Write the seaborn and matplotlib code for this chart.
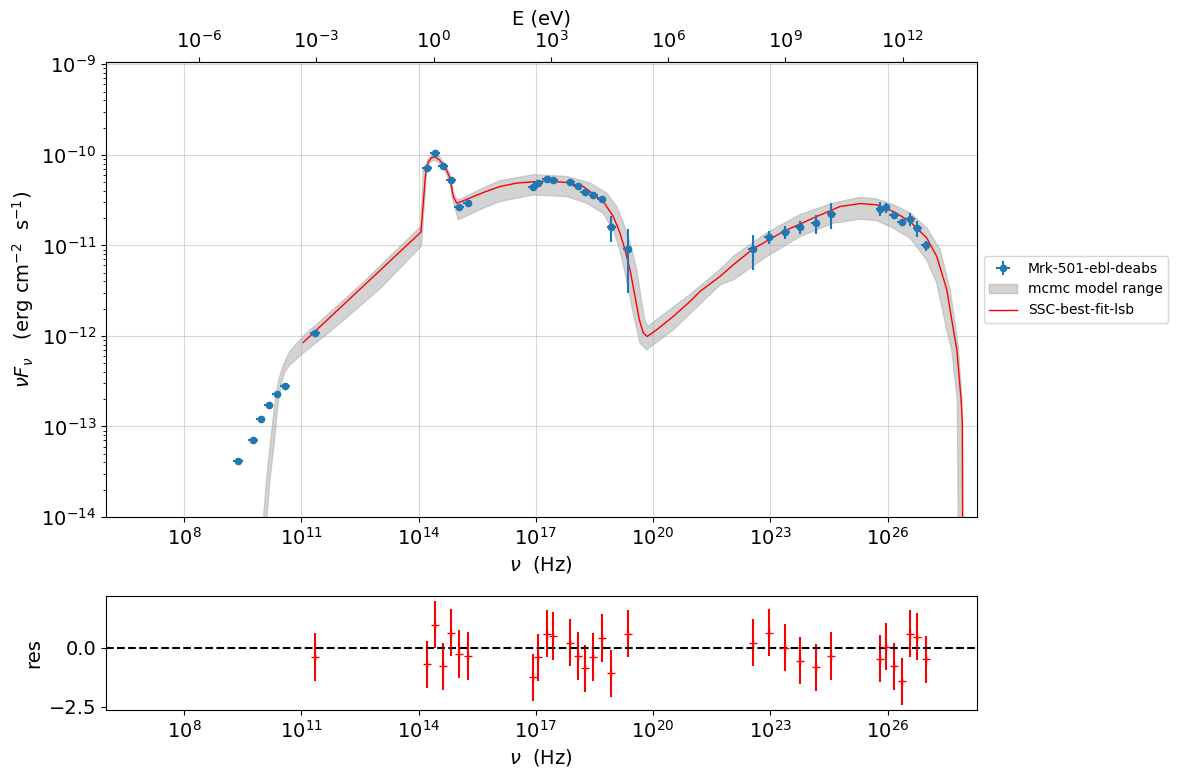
import numpy as np
import pandas as pd
import matplotlib
matplotlib.use('Agg')
import matplotlib.pyplot as plt
import seaborn as sns
from matplotlib.ticker import NullLocator

H_EV = 4.135667e-15  # Planck constant, eV s

# observed SED (log10 nu in Hz, nuFnu in erg cm-2 s-1)
lognu_data = [9.38, 9.76, 9.96, 10.16, 10.37, 10.58, 11.35,
              14.21, 14.42, 14.62, 14.83, 15.03, 15.25,
              16.93, 17.05, 17.28, 17.44, 17.88, 18.08, 18.26, 18.47, 18.68, 18.93, 19.35,
              22.55, 22.96, 23.38, 23.75, 24.16, 24.56,
              25.81, 25.95, 26.16, 26.36, 26.57, 26.76, 26.97]
flux_data = [4.16e-14, 7.1e-14, 1.22e-13, 1.74e-13, 2.29e-13, 2.80e-13, 1.08e-12,
             7.13e-11, 1.05e-10, 7.5e-11, 5.26e-11, 2.62e-11, 2.95e-11,
             4.44e-11, 4.88e-11, 5.47e-11, 5.26e-11, 4.95e-11, 4.47e-11, 3.84e-11, 3.59e-11, 3.24e-11, 1.60e-11, 9.1e-12,
             9.1e-12, 1.24e-11, 1.41e-11, 1.59e-11, 1.77e-11, 2.23e-11,
             2.54e-11, 2.62e-11, 2.16e-11, 1.82e-11, 1.97e-11, 1.56e-11, 9.97e-12]
flux_err = [1.7e-15, 2.8e-15, 5e-15, 7e-15, 9e-15, 1.1e-14, 5e-14,
            5e-12, 7e-12, 5e-12, 3.5e-12, 1.8e-12, 2e-12,
            3e-12, 3.2e-12, 3.5e-12, 3.4e-12, 3.2e-12, 2.9e-12, 2.5e-12, 2.3e-12, 2.1e-12, 5.2e-12, 6.1e-12,
            3.8e-12, 2.1e-12, 2.3e-12, 2.7e-12, 4.2e-12, 7e-12,
            4.4e-12, 3.3e-12, 1.2e-12, 1e-12, 3.3e-12, 3.2e-12, 1.2e-12]
lognu_halfwidth = 0.12  # bin half width in dex

# residuals of the fitted points (from the 7th point on)
res_data = [-0.38, -0.70, 0.98, -0.77, 0.65, -0.26, -0.34,
            -1.25, -0.40, 0.60, 0.51, 0.23, -0.34, -0.86, -0.38, 0.42, -1.08, 0.60,
            0.23, 0.64, 0.01, -0.54, -0.82, -0.34,
            -0.45, 0.06, -0.77, -1.41, 0.60, 0.47, -0.48]

# best fit SSC model
lognu_model = [11.046, 14.058, 14.186, 14.250, 14.332, 14.417, 14.519, 14.629, 14.724, 14.801,
               14.885, 14.972, 15.100, 15.653, 16.080, 16.508, 16.933, 17.360, 17.788, 18.212,
               18.384, 18.724, 18.980, 19.152, 19.280, 19.408, 19.536, 19.646, 19.748, 19.850,
               20.091, 20.516, 20.943, 21.199, 21.711, 22.052, 22.548, 23.331, 24.186, 24.783,
               25.295, 25.722, 26.147, 26.574, 27.002, 27.258, 27.514, 27.683, 27.770, 27.880,
               27.913, 27.924]
logflux_model = [-12.072, -10.853, -10.166, -10.077, -10.030, -10.025, -10.050, -10.110, -10.177, -10.257,
                 -10.460, -10.533, -10.515, -10.416, -10.350, -10.312, -10.298, -10.290, -10.306, -10.350,
                 -10.405, -10.515, -10.681, -10.864, -11.049, -11.269, -11.564, -11.821, -11.968, -12.006,
                 -11.932, -11.785, -11.619, -11.509, -11.343, -11.214, -11.041, -10.847, -10.681, -10.571,
                 -10.538, -10.552, -10.626, -10.736, -10.919, -11.123, -11.490, -11.932, -12.152, -12.704,
                 -12.961, -14.5]

# mcmc model range, upper and lower edges
lognu_band_hi = [10.00, 10.109, 10.219, 10.321, 10.424, 10.534, 10.705, 11.046, 11.473, 12.574,
                 14.058, 14.122, 14.174, 14.250, 14.332, 14.417, 14.519, 14.629, 14.724, 14.801,
                 14.890, 14.980, 15.100, 15.653, 16.080, 16.933, 17.788, 18.384, 18.811, 19.067,
                 19.236, 19.408, 19.579, 19.707, 19.792, 19.876, 20.091, 20.943, 21.711, 22.052,
                 22.906, 23.759, 24.611, 25.295, 25.722, 26.147, 26.574, 27.002, 27.342, 27.598,
                 27.750, 27.811, 27.897, 27.913]
logflux_band_hi = [-14.2, -13.587, -13.146, -12.759, -12.483, -12.329, -12.174, -12.006, -11.843, -11.413,
                   -10.791, -10.166, -10.143, -10.044, -10.000, -9.994, -10.017, -10.077, -10.143, -10.221,
                   -10.419, -10.497, -10.486, -10.368, -10.287, -10.221, -10.240, -10.312, -10.423, -10.571,
                   -10.754, -10.975, -11.269, -11.637, -11.840, -11.895, -11.821, -11.545, -11.269, -11.123,
                   -10.864, -10.662, -10.533, -10.471, -10.489, -10.552, -10.643, -10.809, -11.049, -11.490,
                   -11.932, -12.152, -12.704, -14.2]
lognu_band_lo = [10.078, 10.193, 10.296, 10.385, 10.475, 10.577, 10.705, 11.046, 11.729, 13.009,
                 14.058, 14.071, 14.199, 14.250, 14.332, 14.417, 14.519, 14.629, 14.724, 14.801,
                 14.877, 14.929, 15.013, 15.653, 16.080, 16.933, 17.788, 18.299, 18.724, 18.980,
                 19.152, 19.323, 19.492, 19.664, 19.835, 20.004, 20.516, 21.711, 22.052, 22.906,
                 23.759, 24.611, 25.295, 25.722, 26.147, 26.574, 27.002, 27.258, 27.514, 27.642,
                 27.785, 27.811]
logflux_band_lo = [-14.2, -13.587, -13.201, -12.815, -12.539, -12.395, -12.318, -12.189, -11.954, -11.479,
                   -11.012, -11.0, -10.199, -10.110, -10.066, -10.061, -10.088, -10.149, -10.221, -10.298,
                   -10.497, -10.574, -10.717, -10.588, -10.515, -10.442, -10.460, -10.533, -10.643, -10.828,
                   -11.049, -11.380, -11.747, -12.078, -12.152, -12.097, -11.932, -11.435, -11.380, -11.123,
                   -10.902, -10.754, -10.710, -10.725, -10.809, -10.919, -11.159, -11.416, -11.932, -12.152,
                   -12.704, -14.2]

plt.rc('font', size=14)
fig = plt.figure(figsize=(11.78, 7.78), dpi=100)
ax = fig.add_axes([0.090, 0.3355, 0.7391, 0.5848])
ax_res = fig.add_axes([0.090, 0.0874, 0.7391, 0.1465], sharex=ax)
ax.set_xscale('log')
ax.set_yscale('log')

nu = 10**np.array(lognu_data)
flux = np.array(flux_data)
xerr = [nu - nu*10**(-lognu_halfwidth), nu*10**lognu_halfwidth - nu]

# model band as one polygon (upper edge then lower edge backwards)
band_x = np.concatenate([10**np.array(lognu_band_hi), 10**np.array(lognu_band_lo)[::-1]])
band_y = np.concatenate([10**np.array(logflux_band_hi), 10**np.array(logflux_band_lo)[::-1]])
band = ax.fill(band_x, band_y, facecolor='lightgray', edgecolor='#c6c6c6', lw=1,
               label='mcmc model range', zorder=1)[0]

df_model = pd.DataFrame({'nu': 10**np.array(lognu_model), 'nuFnu': 10**np.array(logflux_model)})
sns.lineplot(data=df_model, x='nu', y='nuFnu', color='red', lw=1, sort=False, estimator=None,
             ax=ax, label='SSC-best-fit-lsb', zorder=2)
line = ax.lines[-1]

eb = ax.errorbar(nu, flux, xerr=xerr, yerr=flux_err, fmt='o', ms=4.5, color='tab:blue',
                 label='Mrk-501-ebl-deabs', zorder=3)

ax.set_xlim(1e6, 1.9e28)
ax.set_ylim(1e-14, 1.06e-9)
ax.set_xticks([1e8, 1e11, 1e14, 1e17, 1e20, 1e23, 1e26])
ax.xaxis.set_minor_locator(NullLocator())
ax.grid(True, which='major', alpha=0.5)
ax.set_xlabel(r'$\nu$  (Hz)')
ax.set_ylabel(r'$\nu F_{\nu}$   (erg cm$^{-2}$  s$^{-1}$)')
ax.legend([eb, band, line], ['Mrk-501-ebl-deabs', 'mcmc model range', 'SSC-best-fit-lsb'],
          loc='center left', bbox_to_anchor=(1.0, 0.5), fontsize=10)

sec = ax.secondary_xaxis('top', functions=(lambda x: x*H_EV, lambda e: e/H_EV))
sec.set_xticks([1e-6, 1e-3, 1e0, 1e3, 1e6, 1e9, 1e12])
sec.xaxis.set_minor_locator(NullLocator())
sec.set_xlabel('E (eV)')

# residuals
ax_res.errorbar(nu[6:], res_data, yerr=1, fmt='+', ms=6, color='red')
ax_res.axhline(0, color='k', ls='--', lw=1.5)
ax_res.set_xlabel(r'$\nu$  (Hz)')
ax_res.set_ylabel('res')
ax_res.xaxis.set_minor_locator(NullLocator())

fig.savefig('out.png', dpi=100)
